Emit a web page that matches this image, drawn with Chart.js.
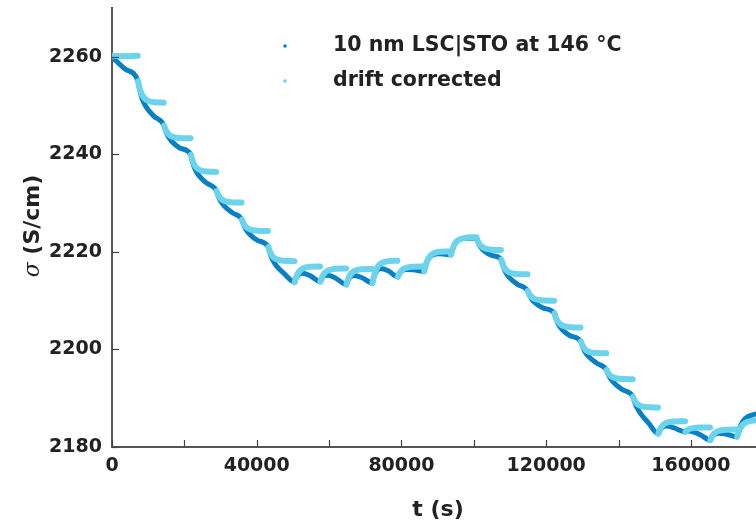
<!DOCTYPE html>
<html>
<head>
<meta charset="utf-8">
<script src="https://cdn.jsdelivr.net/npm/chart.js@4.4.0/dist/chart.umd.min.js"></script>
<style>
  html, body { margin: 0; padding: 0; background: #fff; }
  canvas { display: block; }
</style>
</head>
<body>
<canvas id="chart" width="756" height="526"></canvas>
<script>
// Conductivity of the film over time, one row per relaxation step.
// Raw signal: continuous, each row ends where the next one starts.
const rawT = [
  [0, 3600],
  [7200, 7560, 8280, 9360, 11520],
  [14400, 14760, 15480, 16560, 18720],
  [21800, 22160, 22880, 23960, 26120],
  [28900, 29260, 29980, 31060, 33220],
  [35900, 36260, 36980, 38060, 40220],
  [43200, 43560, 44280, 45360, 47520],
  [50500, 50860, 51580, 52660, 54820],
  [57600, 57960, 58680, 59760, 61920],
  [64800, 65160, 65880, 66960, 69120],
  [72000, 72360, 73080, 74160, 76320],
  [79000, 79360, 80080, 81160, 83320],
  [86300, 86660, 87380, 88460, 90620],
  [93700, 94060, 94780, 95860, 98020],
  [100800, 101160, 101880, 102960, 105120],
  [107600, 107960, 108680, 109760, 111920],
  [114900, 115260, 115980, 117060, 119220],
  [122300, 122660, 123380, 124460, 126620],
  [129600, 129960, 130680, 131760, 133920],
  [136700, 137060, 137780, 138860, 141020],
  [144000, 144360, 145080, 146160, 148320],
  [151000, 151360, 152080, 153160, 155320],
  [158500, 158860, 159580, 160660, 162820],
  [165400, 165760, 166480, 167560, 169720],
  [172800, 173160, 173880, 174960, 177120, 180000]
];
const rawSigma = [
  [2260.0, 2257.5],
  [2255.0, 2253.53, 2251.52, 2249.81, 2247.87],
  [2245.9, 2245.0, 2243.75, 2242.64, 2241.31],
  [2239.9, 2238.73, 2237.11, 2235.72, 2234.13],
  [2232.5, 2231.65, 2230.46, 2229.39, 2228.05],
  [2226.6, 2225.79, 2224.66, 2223.63, 2222.37],
  [2221.0, 2219.97, 2218.53, 2217.22, 2215.58],
  [2213.8, 2214.54, 2215.35, 2215.62, 2215.08],
  [2213.9, 2214.49, 2215.11, 2215.23, 2214.57],
  [2213.3, 2214.05, 2214.88, 2215.18, 2214.7],
  [2213.6, 2214.72, 2216.0, 2216.57, 2216.13],
  [2214.9, 2215.44, 2216.07, 2216.41, 2216.36],
  [2216.0, 2217.11, 2218.48, 2219.32, 2219.6],
  [2219.4, 2220.4, 2221.64, 2222.44, 2222.81],
  [2222.8, 2222.03, 2220.99, 2220.14, 2219.25],
  [2218.4, 2217.39, 2216.0, 2214.8, 2213.42],
  [2212.0, 2211.31, 2210.35, 2209.5, 2208.48],
  [2207.4, 2206.44, 2205.14, 2204.04, 2202.82],
  [2201.6, 2200.76, 2199.58, 2198.52, 2197.21],
  [2195.8, 2195.09, 2194.06, 2193.09, 2191.78],
  [2190.3, 2189.41, 2188.1, 2186.79, 2184.9],
  [2182.7, 2183.32, 2184.01, 2184.28, 2183.93],
  [2183.1, 2183.22, 2183.28, 2183.09, 2182.42],
  [2181.4, 2181.94, 2182.56, 2182.84, 2182.66],
  [2182.1, 2183.1, 2184.6, 2185.8, 2186.6, 2187.0]
];

// Drift corrected signal: each step is drawn on its own.
const corrT = [
  [0, 3600, 7100],
  [7200, 7560, 8280, 9360, 11520, 14300],
  [14400, 14760, 15480, 16560, 18720, 21700],
  [21800, 22160, 22880, 23960, 26120, 28800],
  [28900, 29260, 29980, 31060, 33220, 35800],
  [35900, 36260, 36980, 38060, 40220, 43100],
  [43200, 43560, 44280, 45360, 47520, 50400],
  [50500, 50860, 51580, 52660, 54820, 57500],
  [57600, 57960, 58680, 59760, 61920, 64700],
  [64800, 65160, 65880, 66960, 69120, 71900],
  [72000, 72360, 73080, 74160, 76320, 78900],
  [79000, 79360, 80080, 81160, 83320, 86200],
  [86300, 86660, 87380, 88460, 90620, 93600],
  [93700, 94060, 94780, 95860, 98020, 100700],
  [100800, 101160, 101880, 102960, 105120, 107500],
  [107600, 107960, 108680, 109760, 111920, 114800],
  [114900, 115260, 115980, 117060, 119220, 122200],
  [122300, 122660, 123380, 124460, 126620, 129500],
  [129600, 129960, 130680, 131760, 133920, 136600],
  [136700, 137060, 137780, 138860, 141020, 143900],
  [144000, 144360, 145080, 146160, 148320, 150900],
  [151000, 151360, 152080, 153160, 155320, 158400],
  [158500, 158860, 159580, 160660, 162820, 165300],
  [165400, 165760, 166480, 167560, 169720, 172700],
  [172800, 173160, 173880, 174960, 177120, 180000]
];
const corrSigma = [
  [2260.2, 2260.1, 2260.2],
  [2255.0, 2253.77, 2252.23, 2251.22, 2250.69, 2250.6],
  [2245.9, 2245.17, 2244.26, 2243.66, 2243.35, 2243.3],
  [2239.9, 2238.92, 2237.7, 2236.89, 2236.47, 2236.4],
  [2232.5, 2231.83, 2230.99, 2230.44, 2230.15, 2230.1],
  [2226.6, 2225.96, 2225.15, 2224.62, 2224.35, 2224.3],
  [2221.0, 2220.19, 2219.17, 2218.51, 2218.16, 2218.1],
  [2213.8, 2214.7, 2215.82, 2216.55, 2216.94, 2217.0],
  [2213.9, 2214.66, 2215.6, 2216.22, 2216.55, 2216.6],
  [2213.3, 2214.2, 2215.32, 2216.05, 2216.44, 2216.5],
  [2213.6, 2214.89, 2216.5, 2217.56, 2218.11, 2218.2],
  [2214.9, 2215.49, 2216.22, 2216.71, 2216.96, 2217.0],
  [2216.0, 2217.15, 2218.58, 2219.53, 2220.02, 2220.1],
  [2219.4, 2220.41, 2221.67, 2222.5, 2222.93, 2223.0],
  [2222.8, 2222.13, 2221.29, 2220.74, 2220.45, 2220.4],
  [2218.4, 2217.56, 2216.51, 2215.82, 2215.46, 2215.4],
  [2212.0, 2211.44, 2210.74, 2210.28, 2210.04, 2210.0],
  [2207.4, 2206.59, 2205.57, 2204.91, 2204.56, 2204.5],
  [2201.6, 2200.93, 2200.09, 2199.54, 2199.25, 2199.2],
  [2195.8, 2195.27, 2194.6, 2194.17, 2193.94, 2193.9],
  [2190.3, 2189.68, 2188.91, 2188.41, 2188.14, 2188.1],
  [2182.7, 2183.43, 2184.34, 2184.94, 2185.25, 2185.3],
  [2183.1, 2183.35, 2183.67, 2183.87, 2183.98, 2184.0],
  [2181.4, 2182.02, 2182.79, 2183.29, 2183.56, 2183.6],
  [2182.1, 2183.0, 2184.1, 2184.9, 2185.4, 2185.6]
];

const xTicks = [0, 20000, 40000, 60000, 80000, 100000, 120000, 140000, 160000];
const xLabelled = [0, 40000, 80000, 120000, 160000];
const yTicks = [2180, 2200, 2220, 2240, 2260];
const seriesNames = ['10 nm LSC|STO at 146 °C', 'drift corrected'];
const seriesColors = ['#0a80c4', '#6bd3ec'];

const FONT = '"DejaVu Sans", sans-serif';
const INK = '#222';

function toPoints(ts, vals, breakRows) {
  const pts = [];
  ts.forEach((row, i) => {
    row.forEach((t, j) => pts.push({ x: t, y: vals[i][j] }));
    if (breakRows) pts.push({ x: row[row.length - 1], y: null });
  });
  return pts;
}

// inward tick marks, axis titles and the in-plot legend
const decor = {
  id: 'decor',
  afterDraw(chart) {
    const { ctx, chartArea: a, scales: { x, y } } = chart;
    ctx.save();
    ctx.strokeStyle = '#444';
    ctx.lineWidth = 1.2;
    xTicks.forEach(v => {
      const px = Math.round(x.getPixelForValue(v)) + 0.5;
      ctx.beginPath(); ctx.moveTo(px, a.bottom); ctx.lineTo(px, a.bottom - 7); ctx.stroke();
    });
    yTicks.forEach(v => {
      const py = Math.round(y.getPixelForValue(v)) + 0.5;
      ctx.beginPath(); ctx.moveTo(a.left, py); ctx.lineTo(a.left + 7, py); ctx.stroke();
    });

    ctx.fillStyle = INK;
    ctx.textBaseline = 'middle';

    // x title
    ctx.font = 'bold 22px ' + FONT;
    ctx.textAlign = 'center';
    ctx.fillText('t (s)', 438, 510);

    // y title: italic sigma then the unit
    ctx.save();
    ctx.translate(33, 226);
    ctx.rotate(-Math.PI / 2);
    ctx.textAlign = 'left';
    ctx.font = 'italic 22px "DejaVu Serif", serif';
    const w1 = ctx.measureText('σ').width;
    ctx.font = 'bold 22px ' + FONT;
    const w2 = ctx.measureText(' (S/cm)').width;
    const sx = -(w1 + w2) / 2;
    ctx.font = 'italic 22px "DejaVu Serif", serif';
    ctx.fillText('σ', sx, 0);
    ctx.font = 'bold 22px ' + FONT;
    ctx.fillText(' (S/cm)', sx + w1, 0);
    ctx.restore();

    // legend
    ctx.font = 'bold 20.5px ' + FONT;
    ctx.textAlign = 'left';
    seriesNames.forEach((name, i) => {
      const ly = 46 + i * 35;
      ctx.fillStyle = seriesColors[i];
      ctx.beginPath(); ctx.arc(285, ly, 1.8, 0, Math.PI * 2); ctx.fill();
      ctx.fillStyle = INK;
      ctx.fillText(name, 333, ly);
    });
    ctx.restore();
  }
};

new Chart(document.getElementById('chart'), {
  type: 'scatter',
  data: {
    datasets: [
      {
        label: seriesNames[1],
        data: toPoints(corrT, corrSigma, true),
        showLine: true,
        borderColor: seriesColors[1],
        backgroundColor: seriesColors[1],
        borderWidth: 6,
        borderCapStyle: 'round',
        borderJoinStyle: 'round',
        pointRadius: 0,
        cubicInterpolationMode: 'monotone',
        spanGaps: false,
        order: 0
      },
      {
        label: seriesNames[0],
        data: toPoints(rawT, rawSigma, false),
        showLine: true,
        borderColor: seriesColors[0],
        backgroundColor: seriesColors[0],
        borderWidth: 5,
        borderCapStyle: 'round',
        borderJoinStyle: 'round',
        pointRadius: 0,
        cubicInterpolationMode: 'monotone',
        order: 1
      }
    ]
  },
  options: {
    responsive: false,
    devicePixelRatio: 1,
    animation: false,
    layout: { padding: { top: 8, right: 0, left: 0, bottom: 0 } },
    plugins: { legend: { display: false }, tooltip: { enabled: false } },
    scales: {
      x: {
        type: 'linear',
        min: 0,
        max: 178000,
        afterBuildTicks: s => { s.ticks = xTicks.map(v => ({ value: v })); },
        afterFit: s => { s.height = 79; s.paddingLeft = 0; s.paddingRight = 0; },
        grid: { display: true, drawOnChartArea: false, drawTicks: false, color: 'rgba(0,0,0,0)' },
        border: { display: true, color: '#555', width: 2 },
        ticks: {
          padding: 8,
          color: INK,
          font: { family: FONT, size: 19, weight: 'bold' },
          maxRotation: 0,
          autoSkip: false,
          callback: v => (xLabelled.includes(v) ? String(v) : '')
        }
      },
      y: {
        type: 'linear',
        min: 2180,
        max: 2270,
        afterBuildTicks: s => { s.ticks = yTicks.map(v => ({ value: v })); },
        afterFit: s => { s.width = 112; s.paddingTop = 0; s.paddingBottom = 0; },
        grid: { display: true, drawOnChartArea: false, drawTicks: false, color: 'rgba(0,0,0,0)' },
        border: { display: true, color: '#555', width: 2 },
        ticks: {
          padding: 10,
          color: INK,
          font: { family: FONT, size: 19, weight: 'bold' },
          callback: v => String(v)
        }
      }
    }
  },
  plugins: [decor]
});
</script>
</body>
</html>
